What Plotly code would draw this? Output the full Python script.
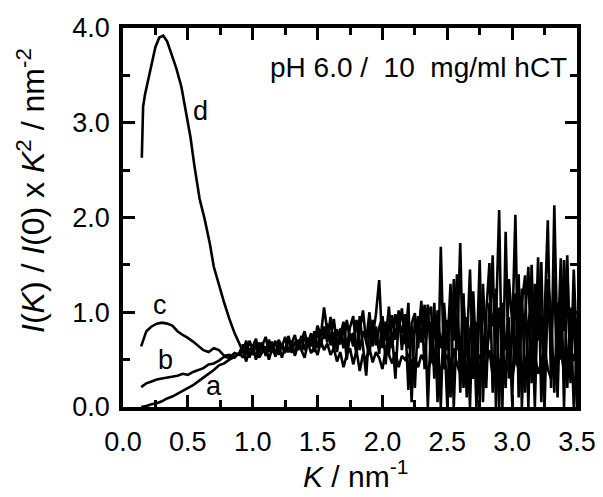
import numpy as np
import plotly.graph_objects as go

# ---------------- data ----------------
K_low = [0.14, 0.18, 0.22, 0.26, 0.30, 0.34, 0.38, 0.42, 0.46, 0.50,
         0.54, 0.58, 0.62, 0.66, 0.70, 0.74, 0.78, 0.82, 0.86, 0.90]
K_d_low = [0.145, 0.155, 0.17, 0.19, 0.22, 0.25, 0.28, 0.31, 0.34, 0.37,
           0.41, 0.45, 0.49, 0.52, 0.55, 0.59, 0.63, 0.67, 0.70, 0.74,
           0.78, 0.82, 0.86, 0.90]
K_high = list(np.round(np.arange(0.925, 3.5001, 0.025), 3))

a_low = [0.00, 0.01, 0.03, 0.04, 0.06, 0.09, 0.11, 0.14, 0.17, 0.20,
         0.23, 0.27, 0.31, 0.35, 0.39, 0.44, 0.46, 0.50, 0.53, 0.57]
b_low = [0.21, 0.25, 0.27, 0.29, 0.30, 0.31, 0.32, 0.33, 0.35, 0.34,
         0.37, 0.39, 0.41, 0.45, 0.46, 0.49, 0.53, 0.52, 0.57, 0.55]
c_low = [0.64, 0.80, 0.85, 0.88, 0.89, 0.88, 0.86, 0.80, 0.76, 0.73,
         0.69, 0.64, 0.60, 0.58, 0.62, 0.60, 0.54, 0.55, 0.52, 0.58]
d_low = [2.63, 3.17, 3.30, 3.42, 3.62, 3.80, 3.90, 3.92, 3.86, 3.73,
         3.58, 3.38, 3.10, 2.85, 2.55, 2.20, 1.98, 1.72, 1.48, 1.28,
         1.10, 0.93, 0.78, 0.66]

a_high = [0.52, 0.64, 0.55, 0.66, 0.50, 0.62, 0.68, 0.54, 0.65, 0.58,
          0.70, 0.55, 0.66, 0.60, 0.72, 0.57, 0.69, 0.62, 0.75, 0.60,
          0.73, 0.64, 0.80, 0.62, 0.81, 0.72, 0.88, 0.65, 0.79, 0.58,
          0.83, 0.62, 0.92, 0.70, 0.78, 0.55, 0.96, 0.64, 0.33, 0.86,
          0.74, 0.98, 1.34, 0.62, 0.90, 0.55, 0.97, 0.71, 1.02, 0.60,
          0.94, 0.18, 0.88, 0.99, 0.62, 1.05, 0.73, 1.08, 0.48, 1.10,
          0.05, 1.69, 0.40, 0.92, 0.10, 1.35, 0.60, 1.73, 0.20, 0.95,
          0.00, 1.22, 0.45, 1.55, 0.05, 0.98, 1.52, 0.15, 0.88, 2.08,
          0.00, 1.85, 0.30, 0.75, 2.03, 0.10, 1.10, 1.39, 0.00, 1.50,
          0.40, 1.58, 0.05, 0.95, 1.97, 0.20, 2.13, 0.55, 1.57, 0.00,
          1.48, 0.30, 1.10, 0.00]
b_high = [0.60, 0.48, 0.62, 0.55, 0.66, 0.52, 0.58, 0.64, 0.50, 0.62,
          0.56, 0.67, 0.52, 0.63, 0.58, 0.70, 0.54, 0.66, 0.60, 0.52,
          0.68, 0.57, 0.63, 0.55, 0.70, 0.60, 0.67, 0.55, 0.62, 0.48,
          0.58, 0.42, 0.55, 0.62, 0.45, 0.60, 0.38, 0.56, 0.50, 0.62,
          0.47, 0.58, 0.52, 0.40, 0.60, 0.55, 0.46, 0.58, 0.42, 0.54,
          0.50, 0.56, 0.46, 0.52, 0.42, 0.55, 0.48, 0.38, 0.50, 0.44,
          0.52, 0.36, 0.48, 0.55, 0.40, 0.62, 0.45, 0.35, 0.50, 0.58,
          0.42, 0.30, 0.48, 0.55, 0.38, 0.46, 0.60, 0.33, 0.42, 0.50,
          0.36, 0.45, 0.38, 0.30, 0.52, 0.40, 0.48, 0.32, 0.44, 0.38,
          0.55, 0.35, 0.47, 0.62, 0.40, 0.30, 0.52, 0.45, 0.60, 0.38,
          0.50, 0.42, 0.56, 0.48]
c_high = [0.66, 0.55, 0.70, 0.60, 0.52, 0.68, 0.62, 0.56, 0.71, 0.60,
          0.55, 0.69, 0.63, 0.74, 0.58, 0.66, 0.76, 0.60, 0.70, 0.80,
          0.64, 0.75, 0.68, 0.86, 0.75, 1.05, 0.80, 0.72, 0.93, 0.66,
          0.75, 0.90, 0.62, 0.84, 0.96, 0.58, 0.80, 1.02, 0.68, 0.55,
          0.92, 0.65, 0.84, 0.95, 0.70, 1.06, 0.62, 0.98, 0.80, 1.04,
          0.66, 1.10, 0.05, 0.95, 0.70, 1.12, 0.40, 0.96, 1.06, 0.30,
          1.02, 0.62, 0.85, 0.00, 1.15, 0.70, 1.40, 0.15, 1.10, 0.60,
          1.45, 0.30, 0.90, 0.05, 1.30, 0.55, 0.80, 1.60, 0.00, 1.05,
          0.72, 0.20, 1.35, 0.85, 0.45, 1.40, 0.00, 0.95, 1.48, 0.25,
          1.30, 0.70, 1.53, 0.00, 1.20, 0.65, 1.38, 0.10, 1.25, 0.80,
          1.60, 0.25, 1.45, 0.55]
d_high = [0.58, 0.70, 0.52, 0.64, 0.72, 0.56, 0.66, 0.74, 0.58, 0.69,
          0.53, 0.71, 0.64, 0.57, 0.75, 0.62, 0.56, 0.71, 0.60, 0.74,
          0.66, 0.78, 0.58, 0.82, 0.63, 0.85, 0.68, 0.95, 0.60, 0.82,
          0.66, 0.88, 0.50, 0.78, 0.64, 0.92, 0.60, 0.80, 0.70, 1.00,
          0.64, 0.85, 0.56, 0.96, 0.45, 0.88, 0.75, 0.30, 0.92, 0.78,
          0.98, 0.62, 0.85, 0.20, 0.96, 0.68, 1.08, 0.00, 0.90, 0.72,
          0.85, 0.00, 1.10, 0.60, 1.30, 0.00, 0.95, 0.50, 1.20, 0.10,
          0.80, 1.00, 0.00, 1.20, 0.70, 0.20, 1.10, 0.85, 1.25, 0.00,
          1.10, 0.60, 0.95, 0.05, 1.20, 0.70, 1.25, 0.15, 0.90, 1.10,
          0.00, 1.25, 0.85, 0.30, 1.35, 1.00, 0.15, 1.10, 0.50, 1.55,
          0.20, 1.05, 0.00, 0.60]

curve_names = ["a", "b", "c", "d"]
label_x = [0.70, 0.33, 0.285, 0.60]
label_y = [0.22, 0.50, 1.08, 3.12]

x_major = [0.0, 0.5, 1.0, 1.5, 2.0, 2.5, 3.0, 3.5]
x_ticktext = ["0.0", "0.5", "1.0", "1.5", "2.0", "2.5", "3.0", "3.5"]
y_major = [0.0, 1.0, 2.0, 3.0, 4.0]
y_ticktext = ["0.0", "1.0", "2.0", "3.0", "4.0"]

x_title = "<i>K</i> / nm<sup>-1</sup>"
y_title = "<i>I</i>(<i>K</i>) / <i>I</i>(0) x <i>K</i><sup>2</sup> / nm<sup>-2</sup>"
note_text = "pH 6.0 /&nbsp; 10&nbsp; mg/ml hCT"

# ---------------- geometry / style ----------------
X_RANGE = [0.0, 3.5]
Y_RANGE = [0.0, 4.0]
FIG_W, FIG_H = 595, 489          # page body adds an 8px offset
M_L, M_R, M_T, M_B = 115, 26, 20, 90
PLOT_W = FIG_W - M_L - M_R
PLOT_H = FIG_H - M_T - M_B
FONT = "Liberation Sans, Arial, sans-serif"

# ---------------- figure ----------------
series = {
    "a": (K_low + K_high, a_low + a_high),
    "b": (K_low + K_high, b_low + b_high),
    "c": (K_low + K_high, c_low + c_high),
    "d": (K_d_low + K_high, d_low + d_high),
}

fig = go.Figure()
for name in curve_names:
    xs, ys = series[name]
    fig.add_trace(go.Scatter(x=xs, y=ys, mode="lines", name=name,
                             line=dict(color="black", width=2.6),
                             showlegend=False))

for name, lx, ly in zip(curve_names, label_x, label_y):
    fig.add_annotation(x=lx, y=ly, text=name, showarrow=False,
                       font=dict(size=27, color="black", family=FONT))

fig.add_annotation(x=3.44, y=3.58, text=note_text, showarrow=False,
                   xanchor="right", yanchor="middle",
                   font=dict(size=28, color="black", family=FONT))

# axis titles
fig.add_annotation(xref="paper", yref="paper", x=-92 / PLOT_W,
                   y=216 / PLOT_H, text=y_title, textangle=-90,
                   showarrow=False, xanchor="center", yanchor="middle",
                   font=dict(size=32, color="black", family=FONT))
fig.add_annotation(xref="paper", yref="paper", x=0.5 + 5 / PLOT_W,
                   y=-67 / PLOT_H, text=x_title, showarrow=False,
                   xanchor="center", yanchor="middle",
                   font=dict(size=30, color="black", family=FONT))

axis_common = dict(showline=True, linecolor="black", linewidth=3.5,
                   mirror="ticks", ticks="inside", tickcolor="black",
                   tickwidth=3, ticklen=12, showgrid=False, zeroline=False,
                   automargin=False,
                   tickfont=dict(size=27, color="black", family=FONT))

fig.update_layout(
    width=FIG_W, height=FIG_H,
    margin=dict(l=M_L, r=M_R, t=M_T, b=M_B),
    paper_bgcolor="white", plot_bgcolor="white",
    xaxis=dict(range=X_RANGE, tickmode="array", tickvals=x_major,
               ticktext=x_ticktext, ticklabelstandoff=8,
               minor=dict(dtick=0.25, tick0=0, ticks="inside", ticklen=7,
                          tickwidth=3, tickcolor="black"),
               **axis_common),
    yaxis=dict(range=Y_RANGE, tickmode="array", tickvals=y_major,
               ticktext=y_ticktext, ticklabelstandoff=4,
               minor=dict(dtick=0.5, tick0=0, ticks="inside", ticklen=7,
                          tickwidth=3, tickcolor="black"),
               **axis_common),
)

fig.write_html("out.html")
